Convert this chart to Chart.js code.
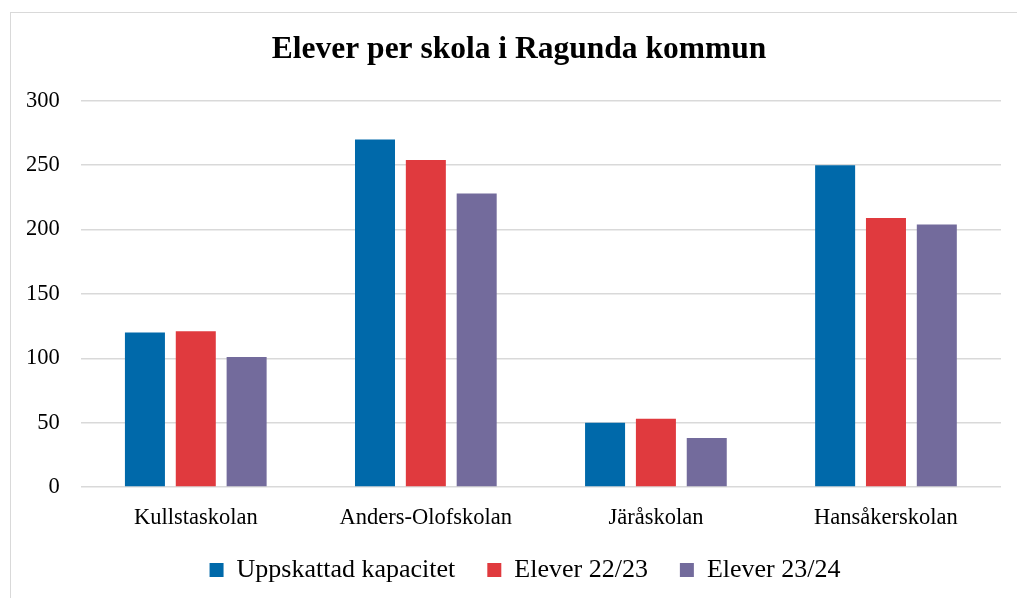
<!DOCTYPE html>
<html>
<head>
<meta charset="utf-8">
<script src="https://cdn.jsdelivr.net/npm/chart.js@4/dist/chart.umd.min.js"></script>
<style>
  html, body { margin: 0; padding: 0; background: #fff; overflow: hidden; }
  #ram { position: absolute; left: 10px; top: 12px; width: 1100px; height: 700px; border: 1px solid #d9d9d9; }
  #box { position: absolute; left: 0; top: 0; width: 1017px; height: 598px; }
</style>
</head>
<body>
<div id="ram"></div>
<div id="box"><canvas id="diagram"></canvas></div>
<script>
// skolor och elevantal
const skolor = ["Kullstaskolan", "Anders-Olofskolan", "Järåskolan", "Hansåkerskolan"];
const kapacitet = [120, 270, 50, 250];
const elever2223 = [121, 254, 53, 209];
const elever2324 = [101, 228, 38, 204];
const yTicks = [0, 50, 100, 150, 200, 250, 300];

const serif = "'Liberation Serif', 'DejaVu Serif', serif";

// flytta rubrik och förklaring lite åt höger (som i originalet)
const flytta = {
    id: "flytta",
    afterLayout: function (chart) {
        chart.titleBlock.left += 16;
        chart.titleBlock.right += 16;
        chart.legend.left += 22;
        chart.legend.right += 22;
    }
};

new Chart(document.getElementById("diagram"), {
    type: "bar",
    data: {
        labels: skolor,
        datasets: [
            { label: "Uppskattad kapacitet", data: kapacitet, backgroundColor: "#0069aa" },
            { label: "Elever 22/23", data: elever2223, backgroundColor: "#e03a3e" },
            { label: "Elever 23/24", data: elever2324, backgroundColor: "#736b9c" }
        ]
    },
    options: {
        responsive: true,
        maintainAspectRatio: false,
        animation: false,
        categoryPercentage: 0.663,
        barPercentage: 0.787,
        layout: { padding: { left: 5, right: 16, top: 10, bottom: 5 } },
        plugins: {
            title: {
                display: true,
                text: "Elever per skola i Ragunda kommun",
                color: "#000",
                font: { family: serif, size: 31.5, weight: "bold" },
                padding: { top: 21, bottom: 32 }
            },
            legend: {
                position: "bottom",
                labels: {
                    color: "#000",
                    font: { family: serif, size: 26 },
                    boxWidth: 14,
                    boxHeight: 14,
                    padding: 32
                }
            },
            tooltip: { enabled: false }
        },
        scales: {
            y: {
                min: 0,
                max: 300,
                afterBuildTicks: function (axis) {
                    axis.ticks = yTicks.map(function (v) { return { value: v }; });
                },
                border: { display: false },
                grid: { color: "#d9d9d9", lineWidth: 1.5, drawTicks: false },
                ticks: { color: "#000", font: { family: serif, size: 22.5 }, padding: 21 }
            },
            x: {
                afterFit: function (axis) { axis.height = 38; },
                border: { display: false },
                grid: { display: false },
                ticks: { color: "#000", font: { family: serif, size: 22.5 }, padding: 10 }
            }
        }
    },
    plugins: [flytta]
});
</script>
</body>
</html>
